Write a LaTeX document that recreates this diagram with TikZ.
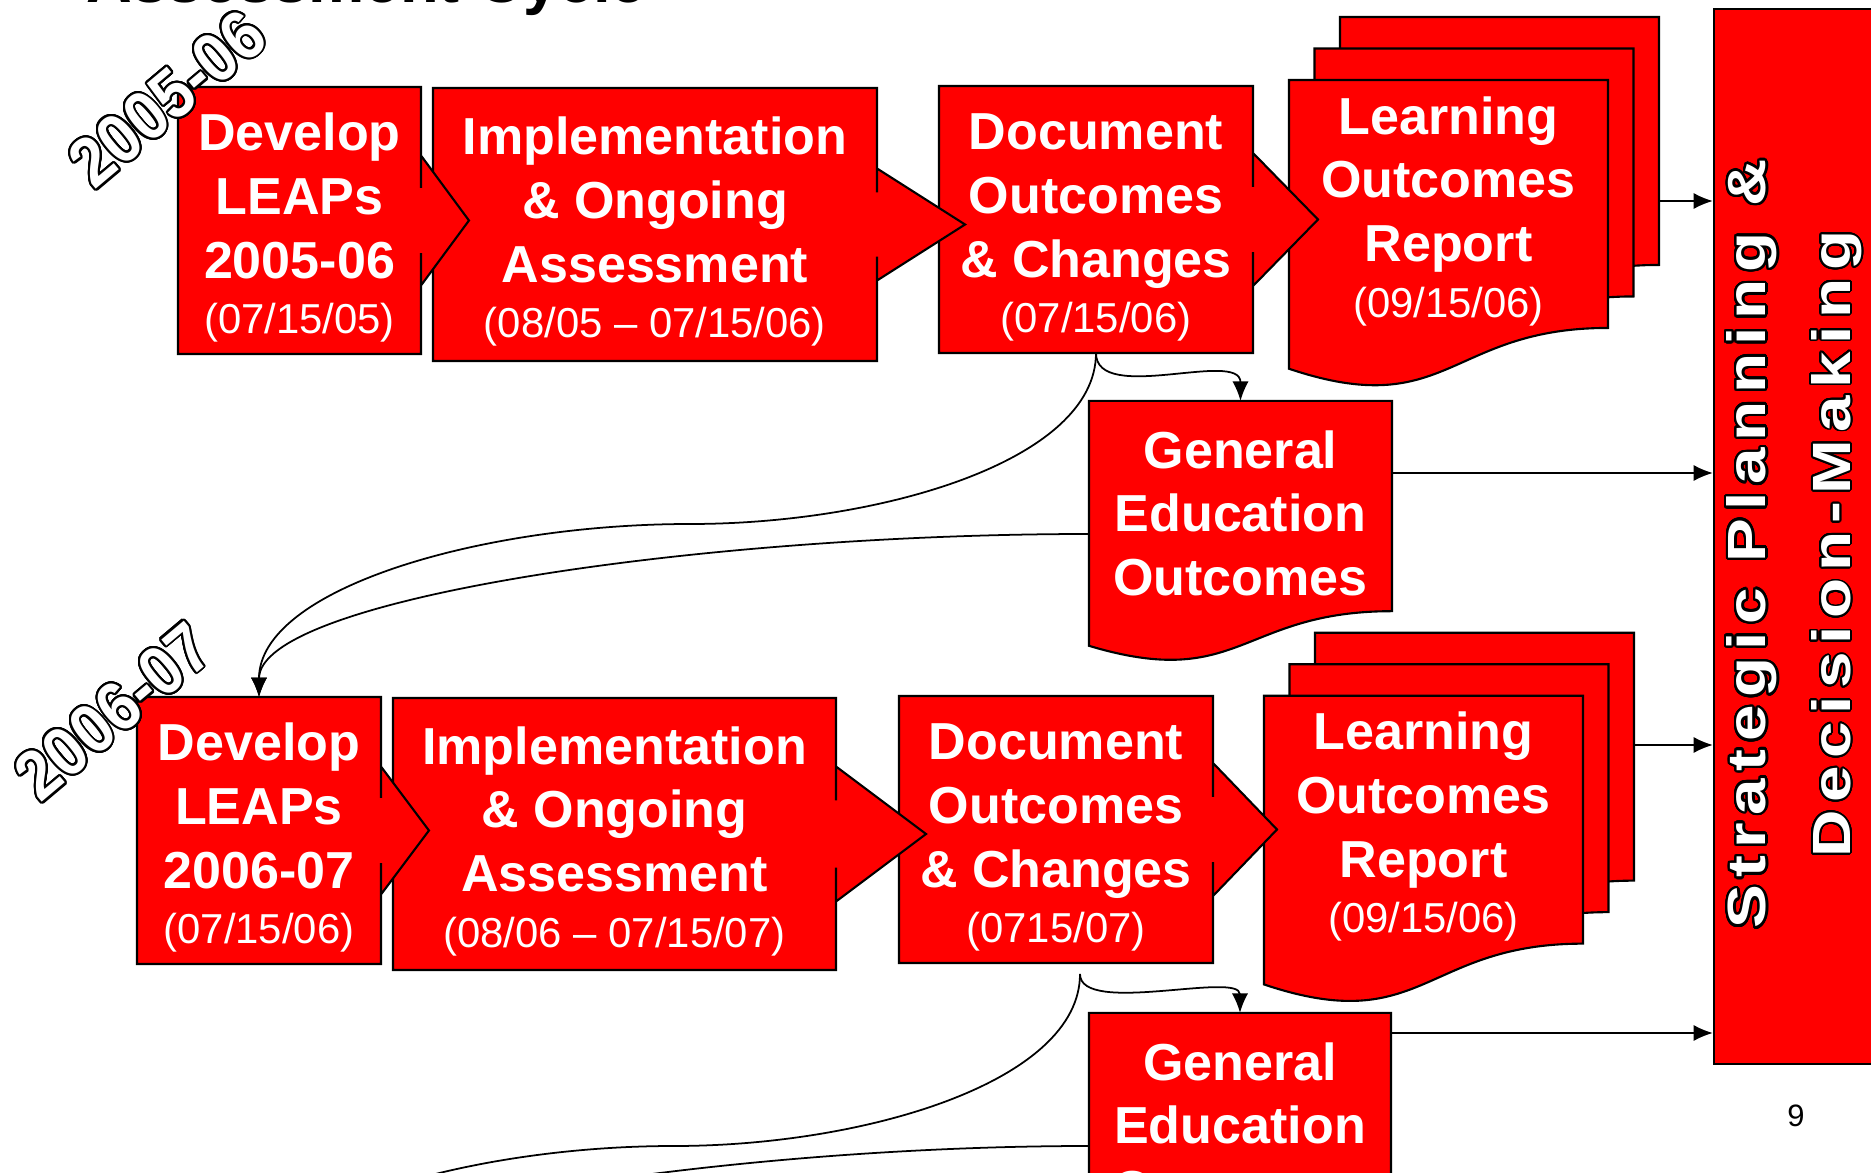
\documentclass[tikz,border=0pt]{standalone}
\usepackage{fontspec}
\setmainfont{Liberation Sans}
\newfontfamily\widefont{Liberation Sans}[FakeStretch=1.22,LetterSpace=14]
\usepackage{contour}
\contourlength{0.5pt}
\contournumber{32}
\usetikzlibrary{%
  arrows.meta,%
  calc,%
  backgrounds% shapes behind the texts
}
\definecolor{boxred}{RGB}{255,0,0}

\newcommand{\dateline}[1]{{\mdseries\fontsize{11.9pt}{18.1pt}\selectfont #1}}
\newcommand{\topgap}{\rule{0pt}{0.52cm}}

% box with arrow head on the right: node, head half, neck half, tip
\newcommand{\chevronbox}[4]{%
  \filldraw[boxline] (#1.north west) -- (#1.north east)
    -- ([yshift=#3]#1.east) -- ([yshift=#2]#1.east) -- ([xshift=#4]#1.east)
    -- ([yshift=-#2]#1.east) -- ([yshift=-#3]#1.east)
    -- (#1.south east) -- (#1.south west) -- cycle;}
% page with wavy bottom below the node
\newcommand{\wavepage}[1]{%
  \filldraw[boxline] let \p1=(#1.north west), \p2=(#1.south east), \n1={\y1-\y2} in
    (\p1) -- (\x2,\y1) -- (\p2)
    .. controls ({(\x1+\x2)/2},\y2) and ({(\x1+\x2)/2},{\y2-0.381*\n1}) ..
    (\x1,{\y2-0.1646*\n1}) -- cycle;}

\begin{document}
\begin{tikzpicture}
  [
  x=0.01cm, y=-0.01cm,
  line width=0.5pt, >={Latex[length=5.5pt,width=4.6pt]},
  boxline/.style={fill=boxred, draw=black, line width=0.6pt},
  stepbox/.style={rectangle, inner sep=0pt, align=center, text=white,
    font=\fontsize{14.8pt}{18.1pt}\selectfont\bfseries},
  page/.style={stepbox, minimum width=3.17cm, minimum height=2.46cm},
  yearmark/.style={inner sep=0pt, text=white,
    font=\fontsize{19.8pt}{22pt}\selectfont\bfseries,
    cm={0.689,0.579,-0.643,0.766,(0,0)}}
  ]
\useasboundingbox (0,0) rectangle (1871,1173);

% title, cut by the page
\node[anchor=base west, inner sep=0pt, font=\fontsize{18pt}{20pt}\selectfont\bfseries] (title) at (86,3) {Assessment Cycle};

% 2005-06
\node[stepbox, minimum width=2.41cm, minimum height=2.65cm] (dev1) at (299.5,220.5) {\topgap Develop\\LEAPs\\2005-06\\[-2.3pt]\dateline{(07/15/05)}};
\node[stepbox, minimum width=4.42cm, minimum height=2.71cm] (imp1) at (655,224.5) {\topgap Implementation\\\& Ongoing\\Assessment\\[-2.3pt]\dateline{(08/05 – 07/15/06)}};
\node[stepbox, minimum width=3.12cm, minimum height=2.65cm] (doc1) at (1096,219.5) {\topgap Document\\Outcomes\\\& Changes\\[-2.3pt]\dateline{(07/15/06)}};
\node[page] (lor1a) at (1448.5,204) {\topgap Learning\\Outcomes\\Report\\[-2.3pt]\dateline{(09/15/06)}};
\node[page] (lor1b) at (1474,172.5) {};
\node[page] (lor1c) at (1499.5,141) {};
\node[stepbox, minimum width=3.01cm, minimum height=2.085cm] (ge1) at (1240.5,506) {\topgap General\\Education\\Outcomes};

% 2006-07
\node[stepbox, minimum width=2.42cm, minimum height=2.65cm] (dev2) at (259,830.5) {\topgap Develop\\LEAPs\\2006-07\\[-2.3pt]\dateline{(07/15/06)}};
\node[stepbox, minimum width=4.41cm, minimum height=2.70cm] (imp2) at (614.5,834) {\topgap Implementation\\\& Ongoing\\Assessment\\[-2.3pt]\dateline{(08/06 – 07/15/07)}};
\node[stepbox, minimum width=3.12cm, minimum height=2.65cm] (doc2) at (1056,829.5) {\topgap Document\\Outcomes\\\& Changes\\[-2.3pt]\dateline{(0715/07)}};
\node[page] (lor2a) at (1423.5,819.7) {\topgap Learning\\Outcomes\\Report\\[-2.3pt]\dateline{(09/15/06)}};
\node[page] (lor2b) at (1449,788.2) {};
\node[page] (lor2c) at (1474.5,756.7) {};
\node[stepbox, minimum width=3.00cm, minimum height=2.085cm] (ge2) at (1240,1118) {\topgap General\\Education\\Outcomes};

\node[rectangle, inner sep=0pt, fill=boxred, draw=black, line width=0.6pt, minimum width=1.61cm, minimum height=10.55cm] (strat) at (1794.5,536.5) {};
\node[rotate=90, align=center, text=white, font=\widefont\fontsize{15.3pt}{24.1pt}\selectfont\bfseries] (stratlabel) at (1795,544) {\contourlength{0.7pt}\contour{black}{Strategic Planning \&}\\\contour{black}{Decision-Making}};

\node[yearmark] (yr1) at (168,99) {\contourlength{0.6pt}\contour{black}{2005-06}};
\node[yearmark] (yr2) at (114,712) {\contourlength{0.6pt}\contour{black}{2006-07}};

\node[font=\fontsize{8.8pt}{10pt}\selectfont] (pagenum) at (1796,1116) {9};

\begin{scope}[on background layer]
  \wavepage{lor1c} \wavepage{lor1b} \wavepage{lor1a}
  \chevronbox{doc1}{0.665cm}{0.325cm}{0.65cm}
  \chevronbox{imp1}{0.56cm}{0.32cm}{0.88cm}
  \chevronbox{dev1}{0.65cm}{0.325cm}{0.48cm}
  \wavepage{ge1}
  \wavepage{lor2c} \wavepage{lor2b} \wavepage{lor2a}
  \chevronbox{doc2}{0.665cm}{0.325cm}{0.64cm}
  \chevronbox{imp2}{0.675cm}{0.335cm}{0.9cm}
  \chevronbox{dev2}{0.64cm}{0.325cm}{0.48cm}
  \wavepage{ge2}
\end{scope}

% into the strategic box
\draw[->] (lor1c.east |- 0,201) -- (strat.west |- 0,201);
\draw[->] (ge1.east |- 0,473) -- (strat.west |- 0,473);
\draw[->] (lor2c.east |- 0,745) -- (strat.west |- 0,745);
\draw[->] (ge2.east |- 0,1033) -- (strat.west |- 0,1033);

% feedback to the next year
\coordinate (bend1) at (690,524);
\coordinate (doc2out) at (1080,974);
\coordinate (bend2) at (674,1146);
\coordinate (dev3) at (243,1320);

\draw[->] (doc1.south) .. controls +(0,52) and +(0,-52) .. (ge1.north);
\draw[->] (doc1.south) .. controls +(0,108) and +(190,0) .. (bend1) .. controls +(-210,0) and +(0,-108) .. (dev2.north);
\draw[->] (ge1.west |- 0,534) .. controls +(-390,0) and +(0,-98) .. (dev2.north);

\draw[->] (doc2out) .. controls +(0,42) and +(0,-42) .. (ge2.north);
\draw[->] (doc2out) .. controls +(0,108) and +(190,0) .. (bend2) .. controls +(-210,0) and +(0,-108) .. (dev3);
\draw[->] (ge2.west |- 0,1146) .. controls +(-390,0) and +(0,-98) .. (dev3);
\end{tikzpicture}
\end{document}
